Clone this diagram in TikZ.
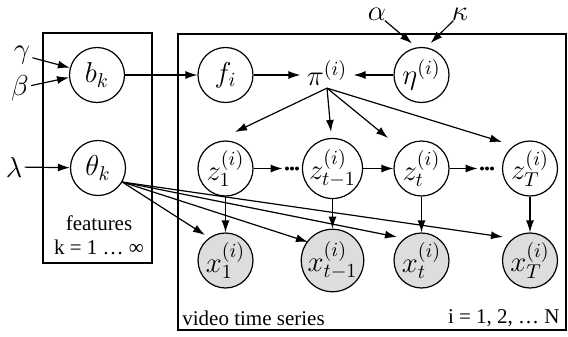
\documentclass[tikz,border=0pt]{standalone}
\usepackage{fontspec}
\setmainfont{Liberation Serif}
\usetikzlibrary{arrows.meta,calc}
\definecolor{obsgray}{RGB}{221,221,221}
\begin{document}
\begin{tikzpicture}[x=0.5pt,y=-0.5pt,
  var/.style={circle,draw,line width=0.6pt,minimum size=27.5pt,inner sep=0pt,font=\Large},
  obs/.style={var,fill=obsgray},
  param/.style={inner sep=1pt,font=\Large},
  arr/.style={-{Latex[length=6pt,width=4pt]},line width=0.6pt},
  plate/.style={draw,line width=1.1pt},
  lbl/.style={font=\fontsize{10.5}{12}\selectfont,inner sep=0pt},
  dotsnode/.style={inner sep=0pt,minimum width=9pt,minimum height=2pt}]
\useasboundingbox (0,0) rectangle (568,337);
% plates
\draw[plate] (43,33) rectangle (152,263);
\draw[plate] (178,34) rectangle (566,330);
% feature plate nodes
\node[var] (b) at (97,75) {$b_k$};
\node[var] (theta) at (98,168) {$\theta_k$};
\node[param] (gamma) at (22,55) {$\gamma$};
\node[param] (beta) at (20,88) {$\beta$};
\node[param] (lambda) at (14,167) {$\lambda$};
\node[lbl] (feat) at (99,223) {features};
\node[lbl] (krange) at (99,247) {k = 1 … ∞};
% series plate nodes
\node[var] (f) at (225.5,75) {$f_i$};
\node[param,inner xsep=3pt] (pi) at (327,73) {$\pi^{(i)}$};
\node[var] (eta) at (421.5,75) {$\eta^{(i)}$};
\node[param,inner sep=0pt] (alpha) at (377,14) {$\alpha$};
\node[param,inner sep=0pt] (kappa) at (460,14) {$\kappa$};
\node[var] (z1) at (225.5,168.5) {$z_1^{(i)}$};
\node[var] (zt1) at (332.5,168.5) {$z_{t-1}^{(i)}$};
\node[var] (zt) at (421.5,168.5) {$z_t^{(i)}$};
\node[var] (zT) at (530,168.5) {$z_T^{(i)}$};
\node[obs] (x1) at (225.5,260.5) {$x_1^{(i)}$};
\node[obs] (xt1) at (332.5,260.5) {$x_{t-1}^{(i)}$};
\node[obs] (xt) at (421.5,260.5) {$x_t^{(i)}$};
\node[obs] (xT) at (530,260.5) {$x_T^{(i)}$};
\node[dotsnode] (d1) at (292,168.5) {};
\node[dotsnode] (d2) at (487,168.5) {};
\foreach \d in {d1,d2}{
  \foreach \dx in {-5,0,5}{\fill ($(\d)+(\dx,0)$) circle[radius=1pt];}}
\node[lbl,anchor=west] (vts) at (182,318) {video time series};
\node[lbl,anchor=east] (irange) at (560,318) {i = 1, 2, … N};
% edges
\draw[arr] (gamma) -- (b.165);
\draw[arr] (beta) -- (b.185);
\draw[arr] (lambda) -- (theta);
\draw[arr] (b) -- (f);
\draw[arr] (f.east) -- (f.east -| pi.west);
\draw[arr] (eta.west) -- (eta.west -| pi.east);
\draw[arr,shorten >=3pt] (alpha) -- (eta.100);
\draw[arr,shorten >=3pt] (kappa) -- (eta.80);
\draw[arr] (pi.south) -- ($(z1.center)+(9.5,-36.5)$);
\draw[arr] (pi.south) -- ($(zt1.center)+(-1.5,-36.5)$);
\draw[arr] (pi.south) -- ($(zt.center)+(-33.5,-30.5)$);
\draw[arr] (pi.south) -- ($(zT.center)+(-28,-26.5)$);
\draw[arr] (z1) -- (d1.west);
\draw[arr] (zt1) -- (zt);
\draw[arr] (zt) -- (d2.west);
\draw[arr] (z1) -- (x1);
\draw[arr] (zt1) -- (xt1);
\draw[arr] (zt) -- (xt);
\draw[arr] (zT) -- (xT);
\draw[arr] (theta.-30) -- ($(x1.center)+(-20.5,-25.5)$);
\draw[arr] (theta.-30) -- ($(xt1.center)+(-24.5,-18.5)$);
\draw[arr] (theta.-30) -- ($(xt.center)+(-24.5,-23.5)$);
\draw[arr] (theta.-30) -- ($(xT.center)+(-27,-23.5)$);
\end{tikzpicture}
\end{document}
